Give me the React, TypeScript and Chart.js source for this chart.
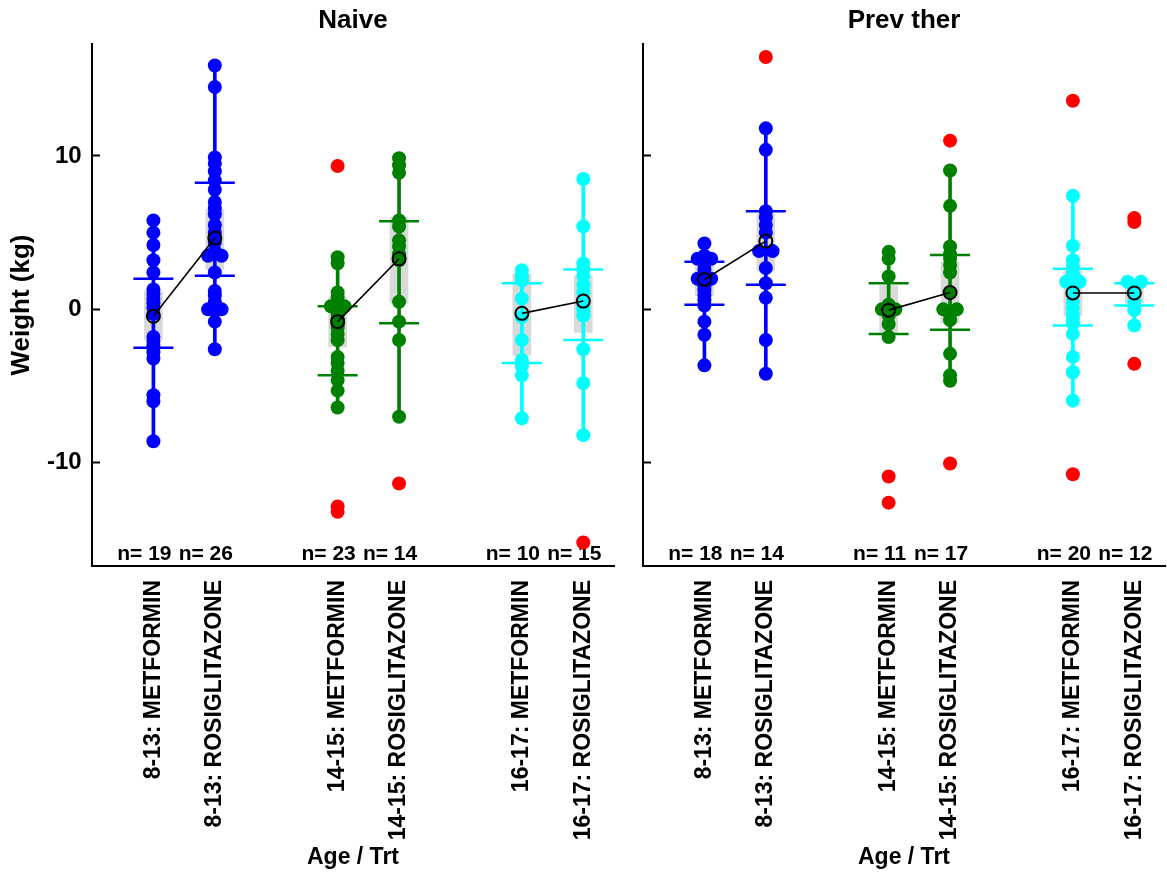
import React, { useEffect, useRef } from "react";
import { Chart, registerables } from "chart.js";

Chart.register(...registerables);

const FONT = '"Liberation Sans", Arial, Helvetica, sans-serif';

// ---------- data ----------
const panelTitles = ["Naive", "Prev ther"];
const categories = [
  "8-13: METFORMIN",
  "8-13: ROSIGLITAZONE",
  "14-15: METFORMIN",
  "14-15: ROSIGLITAZONE",
  "16-17: METFORMIN",
  "16-17: ROSIGLITAZONE",
];
const catPositions = [1, 2, 4, 5, 7, 8];
const groupColors = ["#0000ff", "#0000ff", "#008000", "#008000", "#00ffff", "#00ffff"];
const outlierColor = "#ff0000";
const yTickValues = [-10, 0, 10];
const yTickLabels = ["-10", "0", "10"];

// Naive panel
const naiveMet813 = [5.8, 5.0, 4.2, 3.2, 2.4, 1.3, 1.0, 0.7, 0.4, 0.1, -0.3, -1.8, -2.1, -2.4, -2.8, -3.2, -5.6, -6.0, -8.6];
const naiveRosi813 = [15.9, 14.5, 9.9, 9.5, 9.0, 8.4, 7.8, 7.0, 6.6, 6.2, 5.5, 5.0, 4.4, 3.8, 3.5, 3.5, 2.4, 1.2, 0.9, 0.5, 0.2, 0.0, 0.0, -0.1, -0.8, -2.6];
const naiveMet1415 = [3.4, 3.0, 1.1, 0.8, 0.2, 0.2, 0.0, -0.3, -0.6, -0.8, -1.0, -1.2, -1.6, -2.0, -3.1, -3.5, -4.0, -4.6, -5.3, -6.4];
const naiveRosi1415 = [9.85, 9.4, 8.9, 5.8, 5.4, 4.5, 4.1, 3.6, 3.2, 0.5, -0.8, -2.0, -7.0];
const naiveMet1617 = [2.55, 2.2, 1.9, 0.7, -0.5, -2.0, -3.3, -3.7, -4.3, -7.1];
const naiveRosi1617 = [8.5, 5.4, 3.0, 2.6, 2.2, 1.6, 1.1, 0.6, 0.15, -0.1, -0.4, -2.6, -4.8, -8.2];
const naiveOutliers = [[], [], [9.35, -12.85, -13.2], [-11.35], [], [-15.2]];
const naiveMeans = [-0.45, 4.65, -0.8, 3.3, -0.26, 0.54];
const naiveBarLow = [-2.5, 2.2, -4.3, -0.9, -3.5, -2.0];
const naiveBarHigh = [2.0, 8.25, 0.2, 5.75, 1.7, 2.6];
const naiveCiLow = [-2.0, 2.6, -2.45, 0.4, -3.0, -1.5];
const naiveCiHigh = [1.2, 6.5, 0.8, 6.0, 2.3, 2.2];
const naiveN = [19, 26, 23, 14, 10, 15];

// Prev ther panel
const prevMet813 = [4.3, 3.5, 3.3, 3.3, 3.0, 2.6, 2.2, 2.0, 2.0, 1.7, 1.5, 1.25, 0.9, 0.6, 0.25, -0.8, -1.65, -3.65];
const prevRosi813 = [11.8, 10.4, 6.4, 6.0, 5.5, 5.0, 3.8, 3.8, 2.7, 1.7, 0.75, -2.0, -4.2];
const prevMet1415 = [3.75, 3.3, 2.15, 0.3, 0.0, 0.0, -0.4, -0.95, -1.8];
const prevRosi1415 = [9.05, 6.75, 4.1, 3.6, 3.3, 2.9, 2.4, 1.1, 0.0, 0.0, -0.3, -0.7, -2.9, -4.3, -4.65];
const prevMet1617 = [7.4, 4.15, 3.2, 2.8, 2.4, 1.8, 1.8, 1.3, 1.0, 0.5, 0.1, -0.3, -0.6, -0.9, -1.6, -3.1, -4.1, -5.95];
const prevRosi1617 = [1.8, 1.8, 1.5, 1.3, 1.1, 0.5, 0.2, -0.05, -1.05];
const prevOutliers = [[], [16.45], [-10.9, -12.6], [11.0, -10.05], [13.6, -10.75], [5.95, 5.7, -3.55]];
const prevMeans = [1.95, 4.45, -0.05, 1.1, 1.07, 1.07];
const prevBarLow = [0.3, 1.6, -1.6, -1.33, -1.05, 0.25];
const prevBarHigh = [3.1, 6.4, 1.7, 3.55, 2.65, 1.7];
const prevCiLow = [0.9, 2.5, -1.5, -0.9, -0.4, 0.4];
const prevCiHigh = [3.0, 6.2, 1.55, 3.1, 2.5, 1.75];
const prevN = [18, 14, 11, 17, 20, 12];

const Y_MIN = -16.73;
const Y_MAX = 17.3;
const X_MIN = 0;
const X_MAX = 8.5;

type Panel = {
  title: string;
  points: number[][];
  outliers: number[][];
  means: number[];
  barLow: number[];
  barHigh: number[];
  ciLow: number[];
  ciHigh: number[];
  n: number[];
};

const panelData: Panel[] = [
  {
    title: panelTitles[0],
    points: [naiveMet813, naiveRosi813, naiveMet1415, naiveRosi1415, naiveMet1617, naiveRosi1617],
    outliers: naiveOutliers,
    means: naiveMeans,
    barLow: naiveBarLow,
    barHigh: naiveBarHigh,
    ciLow: naiveCiLow,
    ciHigh: naiveCiHigh,
    n: naiveN,
  },
  {
    title: panelTitles[1],
    points: [prevMet813, prevRosi813, prevMet1415, prevRosi1415, prevMet1617, prevRosi1617],
    outliers: prevOutliers,
    means: prevMeans,
    barLow: prevBarLow,
    barHigh: prevBarHigh,
    ciLow: prevCiLow,
    ciHigh: prevCiHigh,
    n: prevN,
  },
];

// spread tied values side by side
function dodge(vals: number[], center: number) {
  const counts: Record<string, number> = {};
  const seen: Record<string, number> = {};
  vals.forEach((v) => (counts[v] = (counts[v] || 0) + 1));
  return vals.map((v) => {
    const k = counts[v];
    seen[v] = (seen[v] || 0) + 1;
    const j = seen[v] - 1;
    return { x: center + (j - (k - 1) / 2) * 0.22, y: v };
  });
}

function panelPlugin(p: Panel) {
  return {
    id: "panelText",
    beforeDatasetsDraw(chart: any) {
      const { ctx, chartArea, scales } = chart;
      ctx.save();
      ctx.font = `bold 21px ${FONT}`;
      ctx.fillStyle = "#000";
      ctx.textAlign = "center";
      ctx.textBaseline = "middle";
      catPositions.forEach((pos, i) => {
        ctx.fillText("n= " + p.n[i], scales.x.getPixelForValue(pos) - 9, chartArea.bottom - 12);
      });
      ctx.restore();
    },
    afterDraw(chart: any) {
      const { ctx, chartArea } = chart;
      ctx.save();
      ctx.font = `bold 26px ${FONT}`;
      ctx.fillStyle = "#000";
      ctx.textAlign = "center";
      ctx.textBaseline = "middle";
      ctx.fillText(p.title, (chartArea.left + chartArea.right) / 2, 21);
      ctx.restore();
    },
  };
}

function buildConfig(idx: number): any {
  const p = panelData[idx];
  const isLeft = idx === 0;
  const yAxisWidth = isLeft ? 92 : 13;
  const rightPad = isLeft ? 16 : 2;

  const datasets: any[] = [];

  // grey interval boxes
  datasets.push({
    type: "bar",
    data: catPositions.map((x, i) => ({ x, y: [p.ciLow[i], p.ciHigh[i]] })),
    backgroundColor: "#d9d9d9",
    borderWidth: 0,
    barThickness: 18,
    grouped: false,
    order: 6,
  });

  // whiskers (min to max of non-outlying points)
  datasets.push({
    type: "bar",
    data: catPositions.map((x, i) => ({ x, y: [Math.min(...p.points[i]), Math.max(...p.points[i])] })),
    backgroundColor: groupColors,
    borderWidth: 0,
    barThickness: 3,
    grouped: false,
    order: 5,
  });

  // points per group
  catPositions.forEach((x, i) => {
    datasets.push({
      type: "scatter",
      data: dodge(p.points[i], x),
      pointRadius: 7,
      pointHoverRadius: 7,
      pointBorderWidth: 0,
      pointBackgroundColor: groupColors[i],
      backgroundColor: groupColors[i],
      borderColor: groupColors[i],
      order: 4,
    });
  });

  // outliers
  const outData: any[] = [];
  catPositions.forEach((x, i) => {
    dodge(p.outliers[i], x).forEach((d) => outData.push(d));
  });
  datasets.push({
    type: "scatter",
    data: outData,
    pointRadius: 7,
    pointHoverRadius: 7,
    pointBorderWidth: 0,
    pointBackgroundColor: outlierColor,
    backgroundColor: outlierColor,
    borderColor: outlierColor,
    order: 4,
  });

  // crossbars
  const crossData: any[] = [];
  const crossColors: string[] = [];
  catPositions.forEach((x, i) => {
    crossData.push({ x, y: p.barLow[i] });
    crossColors.push(groupColors[i]);
    crossData.push({ x, y: p.barHigh[i] });
    crossColors.push(groupColors[i]);
  });
  datasets.push({
    type: "scatter",
    data: crossData,
    pointStyle: "line",
    pointRadius: 20,
    pointHoverRadius: 20,
    pointBorderWidth: 2.5,
    pointBorderColor: crossColors,
    borderColor: crossColors,
    order: 2,
  });

  // means joined within age group
  for (let g = 0; g < 3; g++) {
    const a = g * 2;
    const b = g * 2 + 1;
    datasets.push({
      type: "line",
      data: [
        { x: catPositions[a], y: p.means[a] },
        { x: catPositions[b], y: p.means[b] },
      ],
      borderColor: "#000",
      borderWidth: 1.6,
      pointRadius: 6.5,
      pointHoverRadius: 6.5,
      pointBorderWidth: 2,
      pointBorderColor: "#000",
      pointBackgroundColor: "rgba(0,0,0,0)",
      fill: false,
      tension: 0,
      order: 0,
    });
  }

  return {
    type: "scatter",
    data: { datasets },
    plugins: [panelPlugin(p)],
    options: {
      responsive: false,
      maintainAspectRatio: false,
      animation: false,
      events: [],
      layout: { autoPadding: false, padding: { left: 0, right: rightPad, top: 44, bottom: 0 } },
      plugins: {
        legend: { display: false },
        tooltip: { enabled: false },
        title: { display: false },
      },
      scales: {
        x: {
          type: "linear",
          min: X_MIN,
          max: X_MAX,
          offset: false,
          afterBuildTicks: (s: any) => {
            s.ticks = catPositions.map((v) => ({ value: v }));
          },
          afterFit: (s: any) => {
            s.height = 875 - 566;
            s.paddingLeft = 0;
            s.paddingRight = 0;
          },
          ticks: {
            autoSkip: false,
            minRotation: 90,
            maxRotation: 90,
            padding: 6,
            color: "#000",
            font: { family: FONT, size: 23, weight: "bold" },
            callback: (_v: any, i: number) => categories[i],
          },
          grid: { display: false, offset: false },
          border: { display: true, color: "#000", width: 2 },
          title: {
            display: true,
            text: "Age / Trt",
            color: "#000",
            font: { family: FONT, size: 23, weight: "bold" },
            padding: { top: 0, bottom: 4 },
          },
        },
        y: {
          type: "linear",
          min: Y_MIN,
          max: Y_MAX,
          afterBuildTicks: (s: any) => {
            s.ticks = yTickValues.map((v) => ({ value: v }));
          },
          afterFit: (s: any) => {
            s.width = yAxisWidth;
            s.paddingTop = 0;
            s.paddingBottom = 0;
          },
          ticks: {
            display: isLeft,
            padding: 18.3,
            color: "#000",
            font: { family: FONT, size: 24, weight: "bold" },
            callback: (_v: any, i: number) => yTickLabels[i],
          },
          grid: {
            display: true,
            drawOnChartArea: false,
            drawTicks: true,
            tickLength: -8,
            tickColor: "#000",
            tickWidth: 2,
          },
          border: { display: true, color: "#000", width: 2 },
          title: {
            display: isLeft,
            text: "Weight (kg)",
            color: "#000",
            font: { family: FONT, size: 26, weight: "bold" },
            padding: { top: 6, bottom: 0 },
          },
        },
      },
    },
  };
}

export default function App() {
  const leftRef = useRef<HTMLCanvasElement>(null);
  const rightRef = useRef<HTMLCanvasElement>(null);

  useEffect(() => {
    Chart.defaults.font.family = FONT;
    const a = new Chart(leftRef.current as HTMLCanvasElement, buildConfig(0));
    const b = new Chart(rightRef.current as HTMLCanvasElement, buildConfig(1));
    return () => {
      a.destroy();
      b.destroy();
    };
  }, []);

  return (
    <div
      style={{
        position: "absolute",
        left: 0,
        top: 0,
        width: 1167,
        height: 875,
        overflow: "hidden",
        background: "#ffffff",
      }}
    >
      <canvas
        ref={leftRef}
        width={630}
        height={875}
        style={{ position: "absolute", left: 0, top: 0, width: 630, height: 875 }}
      />
      <canvas
        ref={rightRef}
        width={537}
        height={875}
        style={{ position: "absolute", left: 630, top: 0, width: 537, height: 875 }}
      />
    </div>
  );
}
